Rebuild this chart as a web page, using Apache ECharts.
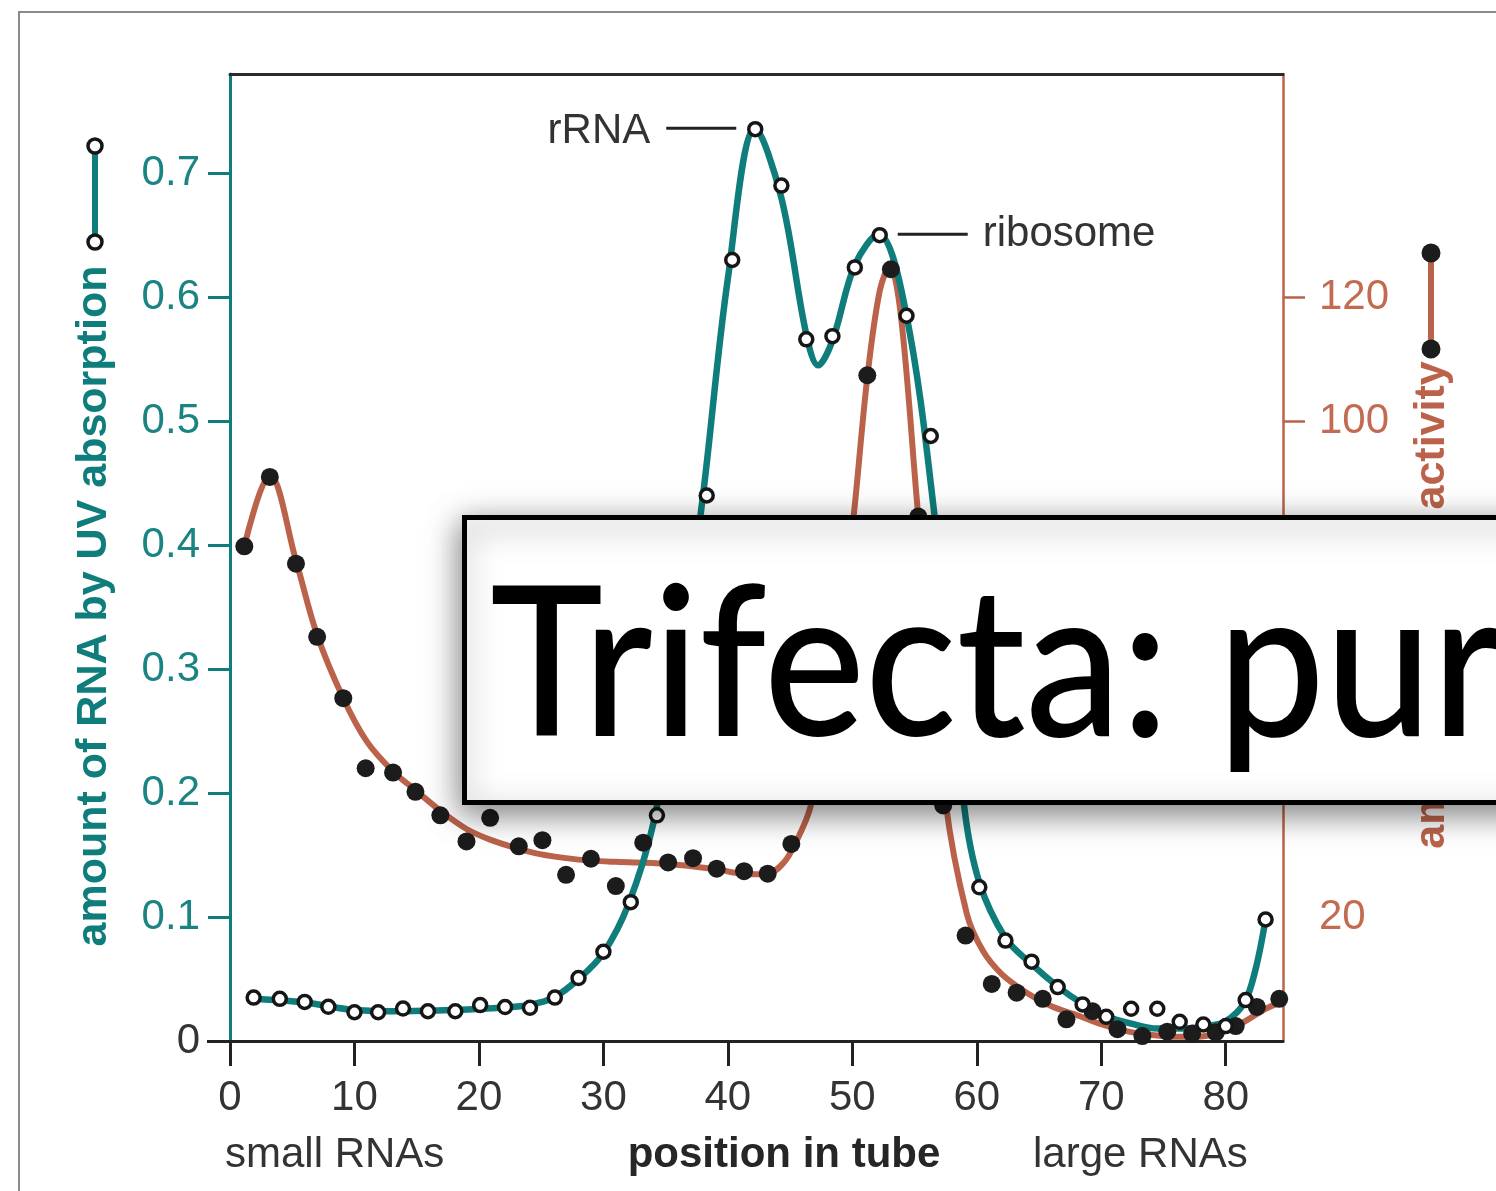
<!DOCTYPE html>
<html><head><meta charset="utf-8">
<script src="https://cdn.jsdelivr.net/npm/echarts@6/dist/echarts.min.js"></script>
<style>html,body{margin:0;padding:0;background:#fff}#chart{width:1496px;height:1191px}</style>
</head><body><div id="chart"></div>
<script>
// ---- tick labels ----
const xTicks = [0, 10, 20, 30, 40, 50, 60, 70, 80];
const leftTicks = [0.1, 0.2, 0.3, 0.4, 0.5, 0.6, 0.7];
const rightLabels = [20, 40, 60, 80, 100, 120];
const rightTickMarks = [40, 60, 80, 100, 120];

// ---- RNA by UV absorption (open circles) ----
const uvX = [1.9, 4.0, 6.0, 7.9, 10.0, 11.9, 13.9, 15.9, 18.1, 20.1, 22.1, 24.1, 26.1, 28.0, 30.0, 32.2, 34.3, 36.2, 38.3, 40.35, 42.2, 44.3, 46.3, 48.4, 50.2, 52.2, 54.35, 56.3, 58.3, 60.2, 62.3, 64.4, 66.5, 68.5, 70.4, 72.4, 74.5, 76.3, 78.2, 80.0, 81.6, 83.2];
const uvY = [0.035, 0.034, 0.0315, 0.0276, 0.0232, 0.0232, 0.0262, 0.024, 0.024, 0.029, 0.0274, 0.0268, 0.035, 0.0508, 0.072, 0.112, 0.182, 0.30, 0.440, 0.630, 0.7355, 0.690, 0.566, 0.5685, 0.624, 0.650, 0.585, 0.488, 0.26, 0.124, 0.081, 0.064, 0.0435, 0.0295, 0.0195, 0.026, 0.026, 0.0155, 0.0133, 0.012, 0.033, 0.098];

// ---- fitted UV curve ----
const uvFitX = [1.9, 6, 10, 14, 18, 22, 24, 26, 28, 30, 32, 34, 36, 38, 40, 42.2, 44.3, 46.3, 47.25, 48.4, 50.2, 52.1, 54.3, 56.6, 59, 60.2, 62.3, 64.4, 66.5, 68.5, 70.4, 72.4, 74.5, 76.5, 78.5, 80, 81.5, 82.4, 83.2];
const uvFitY = [0.034, 0.031, 0.025, 0.024, 0.025, 0.027, 0.029, 0.035, 0.050, 0.071, 0.110, 0.175, 0.290, 0.440, 0.615, 0.736, 0.680, 0.570, 0.545, 0.565, 0.626, 0.651, 0.588, 0.424, 0.188, 0.128, 0.083, 0.062, 0.044, 0.030, 0.020, 0.014, 0.010, 0.010, 0.012, 0.016, 0.031, 0.058, 0.098];

// ---- activity (filled dots) ----
const actX = [1.15, 3.2, 5.3, 7.0, 9.1, 10.9, 13.1, 14.9, 16.9, 19.0, 20.9, 23.2, 25.1, 27.0, 29.0, 31.0, 33.2, 35.2, 37.2, 39.1, 41.3, 43.2, 45.1, 47.1, 49.2, 51.2, 53.1, 55.3, 57.3, 59.1, 61.2, 63.2, 65.3, 67.2, 69.3, 71.3, 73.3, 75.3, 77.3, 79.2, 80.8, 82.5, 84.3];
const actY = [79.8, 91.0, 77.0, 65.2, 55.3, 44.0, 43.3, 40.2, 36.4, 32.2, 36.0, 31.4, 32.4, 26.8, 29.4, 25.0, 32.0, 28.8, 29.5, 27.8, 27.4, 27.0, 31.8, 46, 72, 107.4, 124.5, 84.6, 38.0, 17.0, 9.2, 7.8, 6.8, 3.5, 4.8, 1.9, 0.8, 1.5, 1.2, 1.4, 2.4, 5.5, 6.8];

// ---- fitted activity curve ----
const actFitX = [1.15, 3.2, 5.3, 7.0, 9.1, 11, 13.1, 15, 17, 19, 21, 23.2, 25, 27, 29, 31, 35, 39.1, 41.1, 43.1, 44.5, 45.5, 46.6, 48.2, 50.1, 51.2, 52.2, 53, 53.9, 55.3, 57.5, 59.2, 60.5, 62, 64, 66, 68.3, 70, 72, 74, 76, 77.6, 79.7, 81.4, 83.2, 84.6];
const actFitY = [79.8, 91.3, 77.5, 65.5, 55.3, 48.3, 43.5, 40.3, 37.0, 34.2, 32.4, 31.0, 30.1, 29.5, 29.1, 28.9, 28.6, 27.7, 27.0, 26.9, 28.8, 32.2, 37.5, 52, 84.6, 107, 121, 125, 117, 84.6, 38.5, 20.5, 14.5, 10.8, 7.8, 5.6, 4.0, 2.7, 1.6, 1.0, 0.7, 0.7, 1.4, 3.0, 5.2, 6.4];

// ---- texts ----
const leftTitle = 'amount of RNA by UV absorption';
const rightTitle = 'amount of tRNA activity';
const xTitle = 'position in tube';
const xLeftNote = 'small RNAs';
const xRightNote = 'large RNAs';
const peak1Label = 'rRNA';
const peak2Label = 'ribosome';
const boxText = 'Trifecta: pur';

const TEAL = '#0e7d7b', TEAL_TXT = '#1a8482', BROWN = '#bb634a', BROWN_TXT = '#c26b51', DARK = '#333333';
const FONT = '"Liberation Sans", Arial, Helvetica, sans-serif';
const zip = (a, b) => a.map((v, i) => [v, b[i]]);

const chart = echarts.init(document.getElementById('chart'), null, { renderer: 'canvas' });
const option = {
  animation: false,
  backgroundColor: '#fff',
  textStyle: { fontFamily: FONT },
  grid: { left: 230, top: 74, right: 213, bottom: 150, containLabel: false, outerBoundsMode: 'none' },
  xAxis: [
    {
      type: 'value', min: 0, max: 84.6, interval: 10, position: 'bottom',
      axisLine: { show: true, onZero: false, lineStyle: { color: '#222', width: 3 } },
      axisTick: { show: true, length: 25, customValues: xTicks, lineStyle: { color: '#222', width: 3 } },
      axisLabel: { customValues: xTicks, color: DARK, fontSize: 42, margin: 36, fontFamily: FONT },
      splitLine: { show: false }
    },
    {
      type: 'value', min: 0, max: 84.6, position: 'top',
      axisLine: { show: true, onZero: false, lineStyle: { color: '#2a2a2a', width: 3 } },
      axisTick: { show: false }, axisLabel: { show: false }, splitLine: { show: false }
    }
  ],
  yAxis: [
    {
      type: 'value', min: 0, max: 0.78, position: 'left',
      axisLine: { show: true, onZero: false, lineStyle: { color: TEAL, width: 3 } },
      axisTick: { show: true, length: 22, customValues: leftTicks, lineStyle: { color: TEAL, width: 3 } },
      axisLabel: { customValues: leftTicks, color: TEAL_TXT, fontSize: 42, margin: 30, fontFamily: FONT,
        formatter: v => v.toFixed(1) },
      splitLine: { show: false }
    },
    {
      type: 'value', min: 0, max: 156, position: 'right',
      axisLine: { show: true, onZero: false, lineStyle: { color: BROWN, width: 2.5 } },
      axisTick: { show: true, length: 22, customValues: rightTickMarks, lineStyle: { color: BROWN, width: 2.5 } },
      axisLabel: { customValues: rightLabels, color: BROWN_TXT, fontSize: 42, margin: 36, fontFamily: FONT },
      splitLine: { show: false }
    },
    {
      type: 'value', min: 0, max: 0.78, position: 'left',
      axisLine: { show: false },
      axisTick: { show: true, length: 23, customValues: [0], lineStyle: { color: '#222', width: 3 } },
      axisLabel: { customValues: [0], color: DARK, fontSize: 42, margin: 30, fontFamily: FONT },
      splitLine: { show: false }
    }
  ],
  series: [
    { type: 'line', yAxisIndex: 1, data: zip(actFitX, actFitY), smooth: 0.35, showSymbol: false,
      lineStyle: { color: BROWN, width: 6 }, z: 2, silent: true },
    { type: 'line', yAxisIndex: 0, data: zip(uvFitX, uvFitY), smooth: 0.35, showSymbol: false,
      lineStyle: { color: TEAL, width: 6.5 }, z: 2, silent: true },
    { type: 'scatter', yAxisIndex: 1, data: zip(actX, actY), symbolSize: 18,
      itemStyle: { color: '#1c1c1c', opacity: 1 }, z: 3, silent: true },
    { type: 'scatter', yAxisIndex: 0, data: zip(uvX, uvY), symbolSize: 13,
      itemStyle: { color: '#ffffff', borderColor: '#161616', borderWidth: 3.5, opacity: 1 }, z: 4, silent: true }
  ]
};
chart.setOption(option);

const pA = chart.convertToPixel({ xAxisIndex: 0, yAxisIndex: 0 }, [uvX[20], uvY[20]]);
const pB = chart.convertToPixel({ xAxisIndex: 0, yAxisIndex: 0 }, [uvX[25], uvY[25]]);

chart.setOption({
  graphic: [
    // slide frame
    { type: 'polyline', z: 1, shape: { points: [[19, 1200], [19, 12], [1510, 12]] }, style: { stroke: '#8a8a8a', lineWidth: 2, fill: null } },
    // legend glyphs
    { type: 'line', z: 5, shape: { x1: 95, y1: 146, x2: 95, y2: 242 }, style: { stroke: TEAL, lineWidth: 6 } },
    { type: 'circle', z: 6, shape: { cx: 95, cy: 146, r: 7 }, style: { fill: '#fff', stroke: '#161616', lineWidth: 3.5 } },
    { type: 'circle', z: 6, shape: { cx: 95, cy: 242, r: 7 }, style: { fill: '#fff', stroke: '#161616', lineWidth: 3.5 } },
    { type: 'line', z: 5, shape: { x1: 1431, y1: 253, x2: 1431, y2: 349 }, style: { stroke: BROWN, lineWidth: 6 } },
    { type: 'circle', z: 6, shape: { cx: 1431, cy: 253, r: 9.5 }, style: { fill: '#1c1c1c' } },
    { type: 'circle', z: 6, shape: { cx: 1431, cy: 349, r: 9.5 }, style: { fill: '#1c1c1c' } },
    // axis titles
    { type: 'text', z: 5, x: 94, y: 606, rotation: Math.PI / 2,
      style: { text: leftTitle, font: 'bold 43px ' + FONT, fill: TEAL, align: 'center', verticalAlign: 'middle' } },
    { type: 'text', z: 5, x: 1432, y: 605, rotation: Math.PI / 2,
      style: { text: rightTitle, font: 'bold 43px ' + FONT, fill: BROWN, align: 'center', verticalAlign: 'middle' } },
    { type: 'text', z: 5, x: 225, y: 1155, style: { text: xLeftNote, font: '42px ' + FONT, fill: DARK, align: 'left', verticalAlign: 'middle' } },
    { type: 'text', z: 5, x: 784, y: 1155, style: { text: xTitle, font: 'bold 42px ' + FONT, fill: '#262626', align: 'center', verticalAlign: 'middle' } },
    { type: 'text', z: 5, x: 1033, y: 1155, style: { text: xRightNote, font: '42px ' + FONT, fill: DARK, align: 'left', verticalAlign: 'middle' } },
    // peak annotations
    { type: 'line', z: 5, shape: { x1: pA[0] - 89, y1: pA[1] - 1, x2: pA[0] - 19, y2: pA[1] - 1 }, style: { stroke: '#222', lineWidth: 3 } },
    { type: 'text', z: 5, x: pA[0] - 105, y: pA[1] + 2, style: { text: peak1Label, font: '42px ' + FONT, fill: DARK, align: 'right', verticalAlign: 'middle' } },
    { type: 'line', z: 5, shape: { x1: pB[0] + 18, y1: pB[1] - 1, x2: pB[0] + 88, y2: pB[1] - 1 }, style: { stroke: '#222', lineWidth: 3 } },
    { type: 'text', z: 5, x: pB[0] + 103, y: pB[1] - 1, style: { text: peak2Label, font: '42px ' + FONT, fill: DARK, align: 'left', verticalAlign: 'middle' } },
    // overlay title box
    { type: 'rect', z: 100, shape: { x: 464.5, y: 517.5, width: 1200, height: 285 },
      style: { fill: '#fff', stroke: '#000', lineWidth: 5, shadowBlur: 30, shadowColor: 'rgba(0,0,0,0.5)', shadowOffsetX: -2, shadowOffsetY: 8 } },
    { type: 'text', z: 101, x: 490, y: 668, scaleX: 0.91,
      style: { text: boxText, font: '500 210px Lato, "Open Sans", sans-serif', fill: '#000', align: 'left', verticalAlign: 'middle' } }
  ]
});
</script>
</body></html>
